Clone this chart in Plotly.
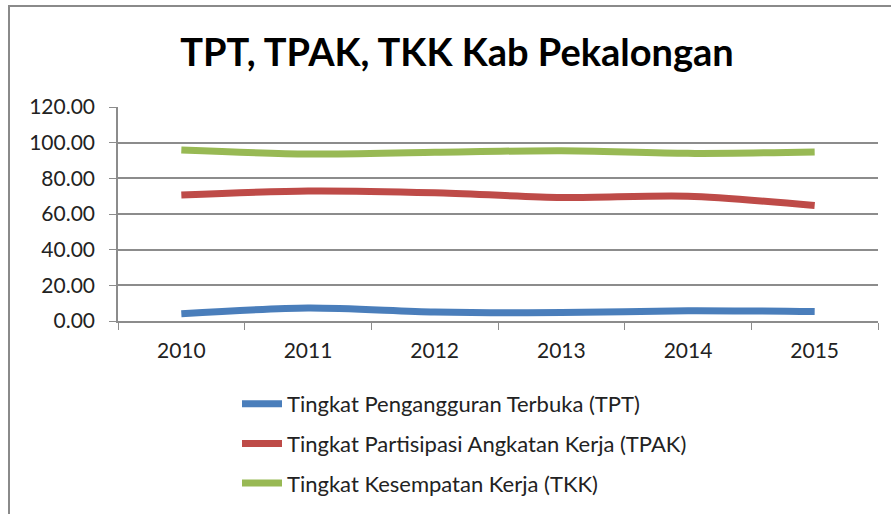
import plotly.graph_objects as go

years = ["2010", "2011", "2012", "2013", "2014", "2015"]
tpt = [4.1, 7.3, 5.1, 4.7, 5.8, 5.3]
tpak = [70.6, 72.9, 71.9, 69.3, 70.0, 64.8]
tkk = [95.9, 93.6, 94.6, 95.5, 94.0, 94.8]
series_names = [
    "Tingkat Pengangguran Terbuka (TPT)",
    "Tingkat Partisipasi Angkatan Kerja (TPAK)",
    "Tingkat Kesempatan Kerja (TKK)",
]
colors = ["#4A7EBB", "#BE4B48", "#98B954"]

W, H = 891, 514
L, R, T, B = 118, 13, 107, 193
pw, ph = W - L - R, H - T - B

def px(x):
    return (x - L) / pw

def py(y):
    return (H - B - y) / ph

FONT = "Lato, Carlito, Calibri, Open Sans, sans-serif"

fig = go.Figure()
for i, (name, vals) in enumerate(zip(series_names, [tpt, tpak, tkk])):
    fig.add_trace(go.Scatter(
        x=years, y=vals, name=name, mode="lines",
        line=dict(color=colors[i], width=7, shape="spline", smoothing=0.8),
        legendgroup=f"g{i}",
    ))

fig.update_layout(
    width=W, height=H,
    margin=dict(l=L, r=R, t=T, b=B, autoexpand=False),
    paper_bgcolor="white", plot_bgcolor="white",
    font=dict(family=FONT, color="#222222"),
    title=dict(text="<b>TPT, TPAK, TKK Kab Pekalongan</b>",
               x=457 / W, xanchor="center", y=1 - 53 / H, yanchor="middle",
               xref="container", yref="container",
               font=dict(size=38, family=FONT, color="#000000")),
    legend=dict(x=px(237), y=py(383), xanchor="left", yanchor="top",
                orientation="v", font=dict(size=22, family=FONT, color="#222222"),
                tracegroupgap=8, bgcolor="rgba(0,0,0,0)", itemwidth=40),
    showlegend=True,
    shapes=[dict(type="rect", xref="paper", yref="paper",
                 x0=px(9), x1=px(900), y0=py(525), y1=py(6),
                 line=dict(color="#8a8a8a", width=2), layer="below")],
)
fig.update_yaxes(range=[0, 120], dtick=20, tickformat=".2f", automargin=False,
                 showgrid=True, gridcolor="#8c8c8c", gridwidth=1.5,
                 showline=True, linecolor="#8c8c8c", linewidth=1.5,
                 ticks="outside", ticklen=7, tickcolor="#8c8c8c",
                 tickfont=dict(size=21, color="#222222"),
                 ticklabelstandoff=10, zeroline=False)
fig.update_xaxes(type="category", range=[-0.5, 5.5], showgrid=False, automargin=False,
                 showline=True, linecolor="#8c8c8c", linewidth=1.5,
                 ticks="outside", ticklen=7, tickcolor="#8c8c8c",
                 tickson="boundaries",
                 tickfont=dict(size=21, color="#222222"),
                 ticklabelstandoff=10)

fig.write_html("out.html", config={"displayModeBar": False},
               post_script="document.body.style.margin='0';document.body.style.overflow='hidden';")
